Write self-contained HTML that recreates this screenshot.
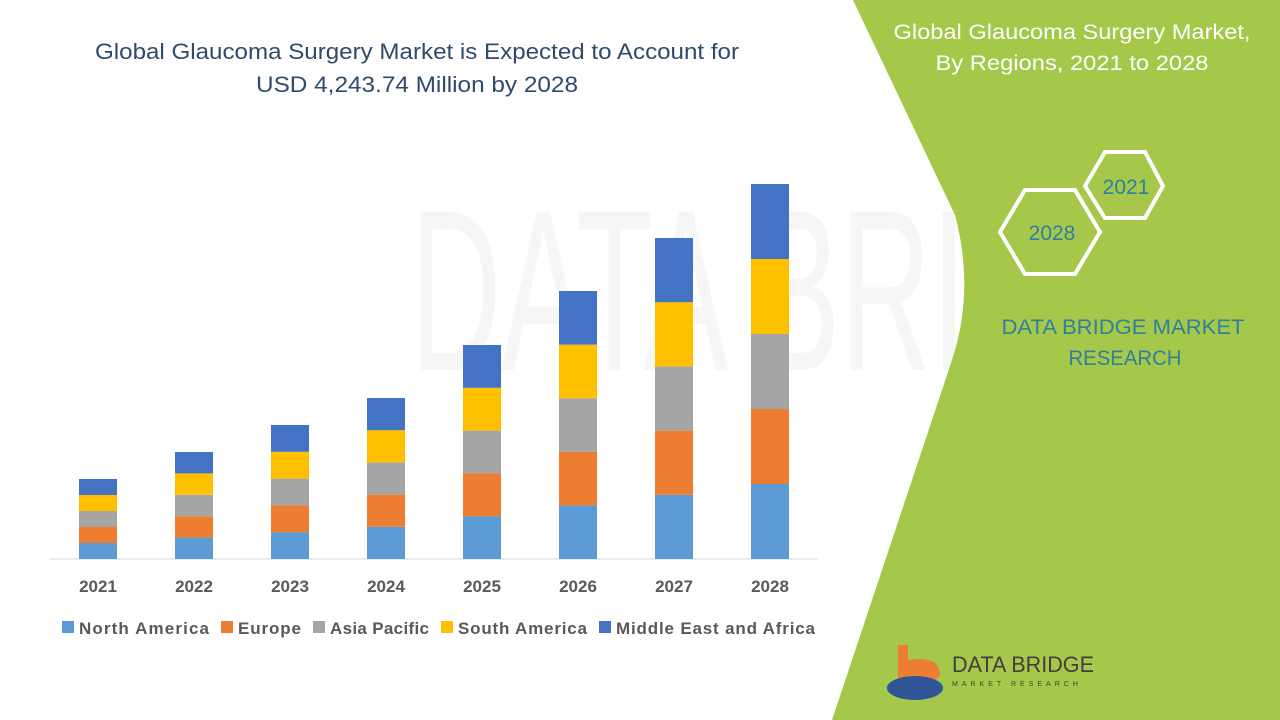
<!DOCTYPE html>
<html><head><meta charset="utf-8"><style>
body{margin:0;width:1280px;height:720px;overflow:hidden;background:#fff;font-family:"Liberation Sans",sans-serif}
</style></head><body>
<svg width="1280" height="720" viewBox="0 0 1280 720" xmlns="http://www.w3.org/2000/svg" style="position:absolute;left:0;top:0">
<text x="410" y="370" font-size="230" fill="#f6f6f6" font-family="Liberation Sans" textLength="830" lengthAdjust="spacingAndGlyphs">DATA BRIDGE</text>
<path d="M853,0 L1280,0 L1280,720 L832,720 L952,360 Q975,290 955,215 Z" fill="#a5c84a"/>
<g font-family="Liberation Sans" text-anchor="middle">
<text x="417" y="59" font-size="22" fill="#2f4a6b" textLength="644" lengthAdjust="spacingAndGlyphs">Global Glaucoma Surgery Market is Expected to Account for</text>
<text x="417" y="92" font-size="22" fill="#2f4a6b" textLength="322" lengthAdjust="spacingAndGlyphs">USD 4,243.74 Million by 2028</text>
<text x="1072" y="39" font-size="21" fill="#fff" textLength="357" lengthAdjust="spacingAndGlyphs">Global Glaucoma Surgery Market,</text>
<text x="1072" y="70" font-size="21" fill="#fff" textLength="273" lengthAdjust="spacingAndGlyphs">By Regions, 2021 to 2028</text>
<text x="1123" y="334" font-size="21" fill="#2f7f9e" textLength="243" lengthAdjust="spacingAndGlyphs">DATA BRIDGE MARKET</text>
<text x="1125" y="365" font-size="21" fill="#2f7f9e" textLength="113" lengthAdjust="spacingAndGlyphs">RESEARCH</text>
</g>
<polygon points="1000,232 1025,190 1075,190 1100,232 1075,274 1025,274" fill="none" stroke="#fff" stroke-width="4"/>
<polygon points="1085,186 1105,152 1145,152 1163,186 1145,218 1105,218" fill="none" stroke="#fff" stroke-width="4"/>
<text x="1052" y="240" font-size="21" fill="#2f7f9e" text-anchor="middle">2028</text>
<text x="1126" y="194" font-size="21" fill="#2f7f9e" text-anchor="middle">2021</text>
<line x1="50" y1="559" x2="818" y2="559" stroke="#d9d9d9"/>
<g id="bars"></g>
<g font-size="17" font-weight="bold" fill="#595959" text-anchor="middle">
<text x="98" y="592">2021</text><text x="194" y="592">2022</text><text x="290" y="592">2023</text><text x="386" y="592">2024</text><text x="482" y="592">2025</text><text x="578" y="592">2026</text><text x="674" y="592">2027</text><text x="770" y="592">2028</text>
</g>
<g font-size="17" font-weight="bold" fill="#595959" lengthAdjust="spacingAndGlyphs">
<rect x="62" y="621" width="12" height="12" fill="#5b9bd5"/><text x="79" y="634" textLength="130">North America</text>
<rect x="221" y="621" width="12" height="12" fill="#ed7d31"/><text x="238" y="634" textLength="63">Europe</text>
<rect x="313" y="621" width="12" height="12" fill="#a5a5a5"/><text x="330" y="634" textLength="99">Asia Pacific</text>
<rect x="441" y="621" width="12" height="12" fill="#ffc000"/><text x="458" y="634" textLength="129">South America</text>
<rect x="599" y="621" width="12" height="12" fill="#4472c4"/><text x="616" y="634" textLength="199">Middle East and Africa</text>
</g>
<path d="M898,645 L908,645 L908,660 Q940,655 940,675 Q930,690 905,690 L898,690 Z" fill="#ed7d31"/>
<ellipse cx="915" cy="688" rx="28" ry="12" fill="#2f5597"/>
<text x="952" y="672" font-size="22" fill="#404040" textLength="142" lengthAdjust="spacingAndGlyphs">DATA BRIDGE</text>
<text x="952" y="686" font-size="7" fill="#404040" letter-spacing="4">MARKET RESEARCH</text>
</svg>
<script>
var xs=[98,194,290,386,482,578,674,770],tops=[479,452,425,398,345,291,238,184],c=["#5b9bd5","#ed7d31","#a5a5a5","#ffc000","#4472c4"],g=document.getElementById("bars"),s="";
for(var i=0;i<8;i++){var h=(559-tops[i])/5;for(var k=0;k<5;k++){s+='<rect x="'+(xs[i]-19)+'" y="'+(559-h*(k+1))+'" width="38" height="'+h+'" fill="'+c[k]+'"/>';}}
g.innerHTML=s;
</script>
</body></html>
